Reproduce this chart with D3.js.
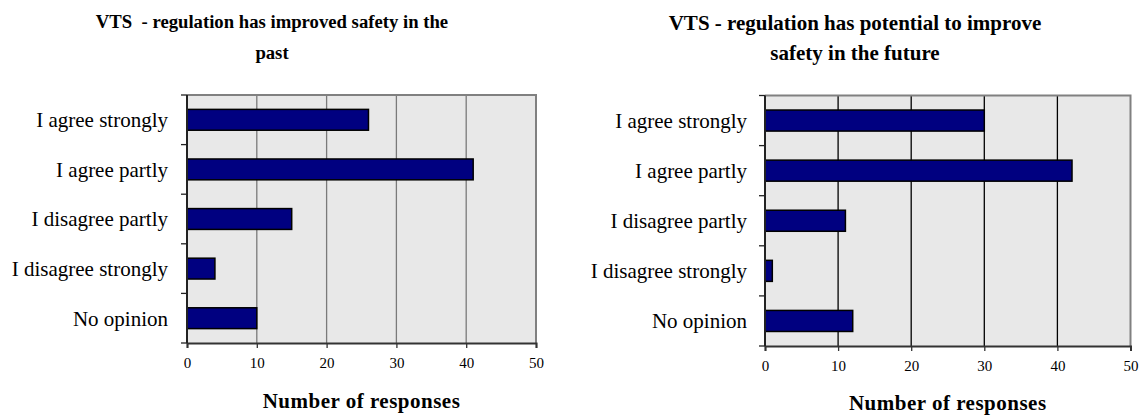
<!DOCTYPE html>
<html>
<head>
<meta charset="utf-8">
<script src="https://cdn.jsdelivr.net/npm/d3@7"></script>
<style>
	body { margin: 0; background: #fff; }
</style>
</head>
<body>
<div id="chart"></div>
<script>
	'use strict';

	var FONT = '"Liberation Serif", "Times New Roman", "DejaVu Serif", serif';

	// categories (top to bottom)
	var categories = ['I agree strongly', 'I agree partly', 'I disagree partly', 'I disagree strongly', 'No opinion'];

	// series values
	var pastValues = [26, 41, 15, 4, 10];
	var futureValues = [30, 42, 11, 1, 12];

	// x tick labels
	var xTicks = [0, 10, 20, 30, 40, 50];

	var pastTitle = ['VTS  - regulation has improved safety in the', 'past'];
	var futureTitle = ['VTS - regulation has potential to improve', 'safety in the future'];
	var axisTitle = 'Number of responses';

	var svg = d3.select('#chart').append('svg')
		.attr('width', 1145)
		.attr('height', 416)
		.style('font-family', FONT);

	// one panel per chart
	drawPanel({
		values: pastValues,
		title: pastTitle,
		titleSize: 18.7,
		titleX: 272, titleY: [28, 59],
		x0: 187, x1: 536, y0: 95, y1: 343,
		gridColor: '#7a7a7a',
		labelGap: 19,
		axisTitleY: 408
	});

	drawPanel({
		values: futureValues,
		title: futureTitle,
		titleSize: 21,
		titleX: 855, titleY: [30, 60],
		x0: 765, x1: 1130.5, y0: 95.5, y1: 346,
		gridColor: '#000',
		labelGap: 18,
		axisTitleY: 410
	});

	function drawPanel(cfg) {
		var data = categories.map(function (c, i) {
			return { label: c, value: cfg.values[i] };
		});

		var xScale = d3.scaleLinear()
			.domain([0, 50])
			.range([cfg.x0, cfg.x1]);

		var yScale = d3.scaleBand()
			.domain(categories)
			.range([cfg.y0, cfg.y1])
			.paddingInner(0.58)
			.paddingOuter(0.29);

		var g = svg.append('g');

		// title, two lines
		g.selectAll('.title')
			.data(cfg.title)
			.enter().append('text')
			.attr('class', 'title')
			.attr('x', cfg.titleX)
			.attr('y', function (d, i) { return cfg.titleY[i]; })
			.attr('text-anchor', 'middle')
			.style('font-family', FONT)
			.style('font-size', cfg.titleSize + 'px')
			.style('font-weight', 'bold')
			.style('white-space', 'pre')
			.text(function (d) { return d; });

		// plot background
		g.append('rect')
			.attr('x', cfg.x0)
			.attr('y', cfg.y0)
			.attr('width', cfg.x1 - cfg.x0)
			.attr('height', cfg.y1 - cfg.y0)
			.attr('fill', '#e8e8e8');

		// vertical gridlines
		g.selectAll('.grid')
			.data(xTicks.slice(1, -1))
			.enter().append('line')
			.attr('class', 'grid')
			.attr('x1', function (d) { return xScale(d); })
			.attr('x2', function (d) { return xScale(d); })
			.attr('y1', cfg.y0)
			.attr('y2', cfg.y1)
			.attr('stroke', cfg.gridColor)
			.attr('stroke-width', 1.3);

		// plot border top + right
		g.append('path')
			.attr('d', 'M' + cfg.x0 + ',' + cfg.y0 + 'H' + cfg.x1 + 'V' + cfg.y1)
			.attr('fill', 'none')
			.attr('stroke', '#808080')
			.attr('stroke-width', 2);

		// bars
		g.selectAll('.bar')
			.data(data)
			.enter().append('rect')
			.attr('class', 'bar')
			.attr('x', xScale(0))
			.attr('y', function (d) { return yScale(d.label); })
			.attr('width', function (d) { return xScale(d.value) - xScale(0); })
			.attr('height', yScale.bandwidth())
			.attr('fill', '#000080')
			.attr('stroke', '#000')
			.attr('stroke-width', 1.5);

		// x axis
		var xAxis = g.append('g')
			.attr('transform', 'translate(0,' + cfg.y1 + ')')
			.call(d3.axisBottom(xScale).tickValues(xTicks).tickSize(5).tickPadding(9));
		xAxis.attr('font-family', null).attr('font-size', null);
		xAxis.select('.domain').attr('stroke', '#333').attr('stroke-width', 2);
		xAxis.selectAll('.tick line').attr('stroke', '#333').attr('stroke-width', 1.3);
		xAxis.selectAll('.tick text')
			.attr('fill', '#000')
			.style('font-family', FONT)
			.style('font-size', '15px');

		// y axis: ticks on band boundaries
		var step = yScale.step();
		var bounds = d3.range(categories.length + 1).map(function (i) { return cfg.y0 + i * step; });
		g.append('line')
			.attr('x1', cfg.x0).attr('x2', cfg.x0)
			.attr('y1', cfg.y0).attr('y2', cfg.y1)
			.attr('stroke', '#222')
			.attr('stroke-width', 2);
		g.selectAll('.ytick')
			.data(bounds)
			.enter().append('line')
			.attr('class', 'ytick')
			.attr('x1', cfg.x0 - 6).attr('x2', cfg.x0)
			.attr('y1', function (d) { return d; })
			.attr('y2', function (d) { return d; })
			.attr('stroke', '#222')
			.attr('stroke-width', 1.3);

		// category labels
		g.selectAll('.ylabel')
			.data(categories)
			.enter().append('text')
			.attr('class', 'ylabel')
			.attr('x', cfg.x0 - cfg.labelGap)
			.attr('y', function (d) { return yScale(d) + yScale.bandwidth() / 2; })
			.attr('dy', '0.35em')
			.attr('text-anchor', 'end')
			.style('font-family', FONT)
			.style('font-size', '21px')
			.text(function (d) { return d; });

		// axis title
		g.append('text')
			.attr('x', (cfg.x0 + cfg.x1) / 2)
			.attr('y', cfg.axisTitleY)
			.attr('text-anchor', 'middle')
			.style('font-family', FONT)
			.style('font-size', '21px')
			.style('font-weight', 'bold')
			.style('letter-spacing', '0.5px')
			.text(axisTitle);
	}
</script>
</body>
</html>
